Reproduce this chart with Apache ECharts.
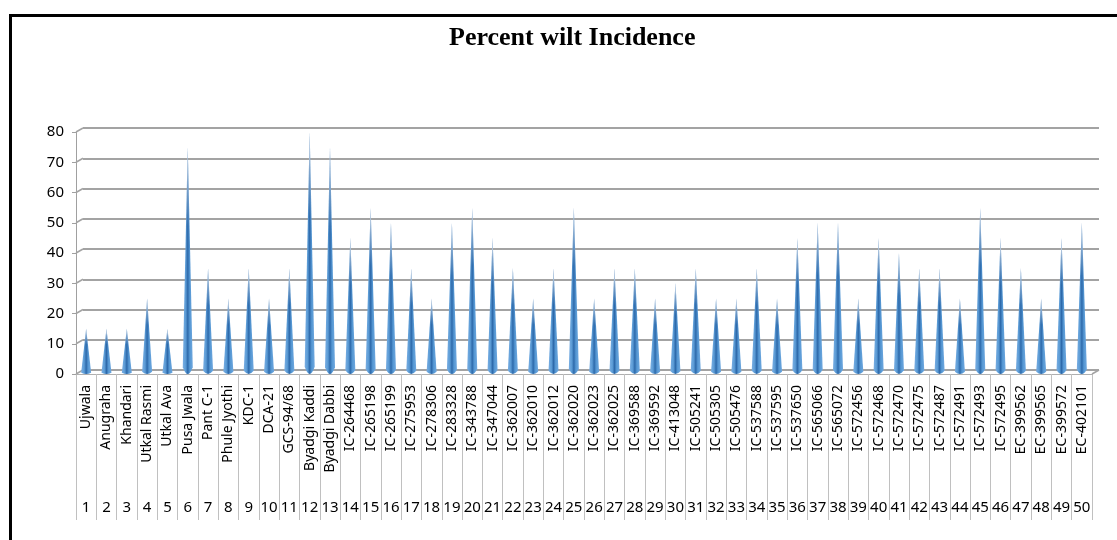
<!DOCTYPE html>
<html>
<head>
<meta charset="utf-8">
<script src="https://cdn.jsdelivr.net/npm/echarts@6/dist/echarts.min.js"></script>
<style>
html,body{margin:0;padding:0;background:#fff;}
#chart{width:1117px;height:540px;position:absolute;left:0;top:0;}
#frame{position:absolute;left:9px;top:14px;width:1108px;height:526px;border-left:3px solid #000;border-top:3px solid #000;box-sizing:border-box;pointer-events:none;}
</style>
</head>
<body>
<div id="chart"></div>
<div id="frame"></div>
<script>
const categories = ["Ujwala","Anugraha","Khandari","Utkal Rasmi","Utkal Ava","Pusa Jwala","Pant C-1","Phule Jyothi","KDC-1","DCA-21","GCS-94/68","Byadgi Kaddi","Byadgi Dabbi","IC-264468","IC-265198","IC-265199","IC-275953","IC-278306","IC-283328","IC-343788","IC-347044","IC-362007","IC-362010","IC-362012","IC-362020","IC-362023","IC-362025","IC-369588","IC-369592","IC-413048","IC-505241","IC-505305","IC-505476","IC-537588","IC-537595","IC-537650","IC-565066","IC-565072","IC-572456","IC-572468","IC-572470","IC-572475","IC-572487","IC-572491","IC-572493","IC-572495","EC-399562","EC-399565","EC-399572","EC-402101"];
const serialNumbers = ["1","2","3","4","5","6","7","8","9","10","11","12","13","14","15","16","17","18","19","20","21","22","23","24","25","26","27","28","29","30","31","32","33","34","35","36","37","38","39","40","41","42","43","44","45","46","47","48","49","50"];
const wiltValues = [15,15,15,25,15,75,35,25,35,25,35,80,75,45,55,50,35,25,50,55,45,35,25,35,55,25,35,35,25,30,35,25,25,35,25,45,50,50,25,45,40,35,35,25,55,45,35,25,45,50];
const yTicks = [0,10,20,30,40,50,60,70,80];

const chart = echarts.init(document.getElementById('chart'));
const conePath = 'path://M5,0 L10,97 Q5,103 0,97 Z';
const DX = 7, DY = -4;

chart.setOption({
  animation: false,
  title: {
    text: 'Percent wilt Incidence',
    left: 444, top: 20,
    textStyle: {fontFamily: 'Liberation Serif', fontWeight: 'bold', fontSize: 26, color: '#000'}
  },
  grid: [
    {left: 76, right: 25, top: 132, bottom: 166},
    {left: 83, right: 18, top: 128, bottom: 170}
  ],
  xAxis: [
    {type: 'category', gridIndex: 0, data: categories,
     axisLine: {show: true, lineStyle: {color: '#b0b0b0', width: 1}},
     axisTick: {show: true, interval: 0, length: 146, lineStyle: {color: '#c0c0c0'}},
     axisLabel: {interval: 0, rotate: 90, margin: 11, fontFamily: 'Noto Sans', fontSize: 14, color: '#000'}},
    {type: 'category', gridIndex: 1, data: categories, show: false},
    {type: 'category', gridIndex: 0, data: serialNumbers, position: 'bottom', offset: 126,
     axisLine: {show: false}, axisTick: {show: false},
     axisLabel: {interval: 0, margin: 0, fontFamily: 'Noto Sans', fontSize: 15, color: '#000'}}
  ],
  yAxis: [
    {type: 'value', gridIndex: 0, min: 0, max: 80, interval: 10,
     axisLine: {show: true, lineStyle: {color: '#a0a0a0', width: 1}},
     axisTick: {show: true, length: 4, lineStyle: {color: '#a0a0a0'}},
     axisLabel: {margin: 12, fontFamily: 'Noto Sans', fontSize: 15, color: '#000'},
     splitLine: {show: false}},
    {type: 'value', gridIndex: 1, min: 0, max: 80, interval: 10,
     axisLine: {show: false}, axisTick: {show: false}, axisLabel: {show: false},
     splitLine: {show: true, lineStyle: {color: '#a3a3a3', width: 2}}}
  ],
  series: [
    {
      type: 'custom', xAxisIndex: 0, yAxisIndex: 0, silent: true,
      data: yTicks.map(v => [0, v]),
      renderItem: function (params, api) {
        const p = api.coord([0, api.value(1)]);
        const w = api.size([1, 0])[0];
        const x0 = p[0] - w / 2;
        const children = [{
          type: 'line',
          shape: {x1: x0, y1: p[1], x2: x0 + DX, y2: p[1] + DY},
          style: {stroke: '#a3a3a3', lineWidth: 1.5}
        }];
        if (api.value(1) === 0) {
          const q = api.coord([categories.length - 1, 0]);
          const x1 = q[0] + w / 2;
          children.push({
            type: 'line',
            shape: {x1: x1, y1: q[1], x2: x1 + DX, y2: q[1] + DY},
            style: {stroke: '#a3a3a3', lineWidth: 1.5}
          });
        }
        return {type: 'group', children: children};
      }
    },
    {
      type: 'pictorialBar', xAxisIndex: 0, yAxisIndex: 0,
      data: wiltValues,
      symbol: conePath, symbolSize: [10, '100%'], symbolPosition: 'start',
      itemStyle: {
        color: new echarts.graphic.LinearGradient(0, 0, 1, 0, [
          {offset: 0, color: '#79aee3'},
          {offset: 0.3, color: '#5b9bd5'},
          {offset: 0.5, color: '#2d69aa'},
          {offset: 0.7, color: '#5597d3'},
          {offset: 1, color: '#6fa8df'}
        ])
      },
      z: 3
    },
    {
      type: 'pictorialBar', xAxisIndex: 0, yAxisIndex: 0,
      data: wiltValues, barGap: '-100%',
      symbol: conePath, symbolSize: [10, '100%'], symbolPosition: 'start',
      itemStyle: {
        color: new echarts.graphic.LinearGradient(0, 0, 0, 1, [
          {offset: 0, color: 'rgba(255,255,255,0.95)'},
          {offset: 0.15, color: 'rgba(255,255,255,0.4)'},
          {offset: 0.35, color: 'rgba(255,255,255,0)'},
          {offset: 1, color: 'rgba(255,255,255,0)'}
        ])
      },
      z: 4
    }
  ]
});
</script>
</body>
</html>
